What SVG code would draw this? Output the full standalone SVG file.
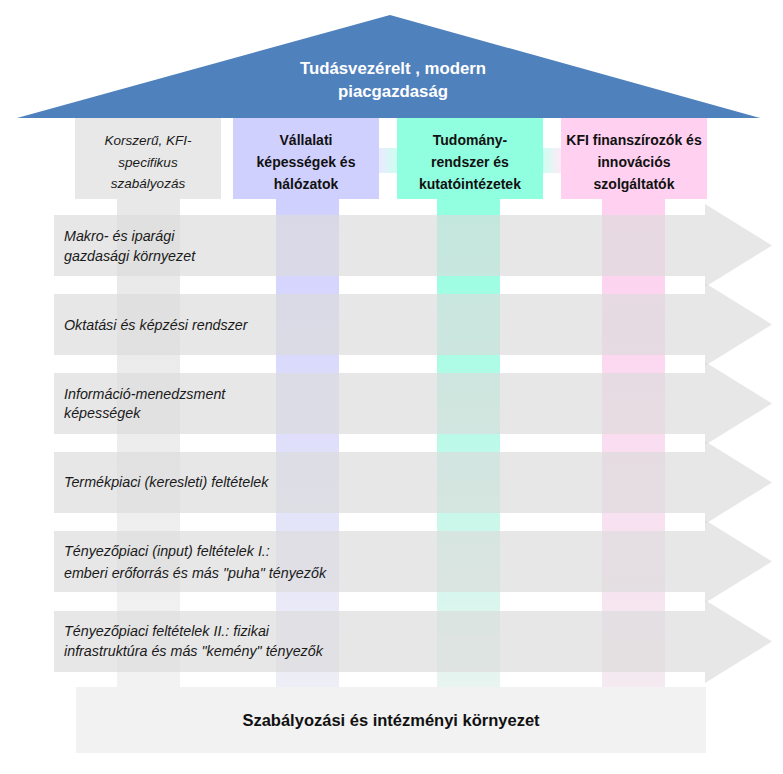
<svg xmlns="http://www.w3.org/2000/svg" width="783" height="774" viewBox="0 0 783 774">
<defs>
<style>
.it{font-family:"Liberation Sans",Arial,sans-serif;font-style:italic;font-size:14.3px;fill:#1a1a1a}
.hd{font-family:"Liberation Sans",Arial,sans-serif;font-weight:bold;font-size:14px;fill:#111;text-anchor:middle}
.hi{font-family:"Liberation Sans",Arial,sans-serif;font-style:italic;font-size:13.5px;fill:#1a1a1a;text-anchor:middle}
.band{fill:#dcdcdc;fill-opacity:0.68}
</style>
<linearGradient id="gGray" x1="0" y1="0" x2="0" y2="1"><stop offset="0" stop-color="#e8e8e8"/><stop offset="1" stop-color="#f2f2f2"/></linearGradient>
<linearGradient id="gBlue" x1="0" y1="0" x2="0" y2="1"><stop offset="0" stop-color="#d0d0ff"/><stop offset="1" stop-color="#eeeef6"/></linearGradient>
<linearGradient id="gTeal" x1="0" y1="0" x2="0" y2="1"><stop offset="0" stop-color="#90ffe0"/><stop offset="1" stop-color="#e8f4f0"/></linearGradient>
<linearGradient id="gPink" x1="0" y1="0" x2="0" y2="1"><stop offset="0" stop-color="#ffd0f0"/><stop offset="1" stop-color="#f4eaf0"/></linearGradient>
<linearGradient id="cBT" x1="0" y1="0" x2="1" y2="0"><stop offset="0" stop-color="#d0d0ff"/><stop offset="1" stop-color="#90ffe0"/></linearGradient>
<linearGradient id="cTP" x1="0" y1="0" x2="1" y2="0"><stop offset="0" stop-color="#90ffe0"/><stop offset="1" stop-color="#ffd0f0"/></linearGradient>
</defs>
<rect width="783" height="774" fill="#fff"/>

<g id="roof">
<polygon points="17,118 390,15 760,118" fill="#4f81bd"/>
<text x="393" y="74" text-anchor="middle" font-family="Liberation Sans, Arial, sans-serif" font-weight="bold" font-size="16.8" fill="#fff">Tudásvezérelt , modern</text>
<text x="393" y="97" text-anchor="middle" font-family="Liberation Sans, Arial, sans-serif" font-weight="bold" font-size="16.8" fill="#fff">piacgazdaság</text>
</g>

<g id="pillar-regulation">
<rect x="117" y="199" width="63" height="488" fill="url(#gGray)"/>
<rect x="75" y="118" width="146" height="81" fill="#e8e8e8"/>
<text class="hi" x="148" y="145">Korszerű, KFI-</text>
<text class="hi" x="148" y="167">specifikus</text>
<text class="hi" x="148" y="188">szabályozás</text>
</g>
<g id="pillar-companies">
<rect x="276" y="199" width="63" height="488" fill="url(#gBlue)"/>
<rect x="233" y="118" width="146" height="81" fill="#d0d0ff"/>
<text class="hd" x="306" y="145">Vállalati</text>
<text class="hd" x="306" y="167">képességek és</text>
<text class="hd" x="306" y="189">hálózatok</text>
</g>
<g id="pillar-science">
<rect x="437" y="199" width="63" height="488" fill="url(#gTeal)"/>
<rect x="397" y="118" width="146" height="81" fill="#90ffe0"/>
<text class="hd" x="470" y="145">Tudomány-</text>
<text class="hd" x="470" y="167">rendszer és</text>
<text class="hd" x="470" y="189">kutatóintézetek</text>
</g>
<g id="pillar-finance">
<rect x="602" y="199" width="63" height="488" fill="url(#gPink)"/>
<rect x="561" y="118" width="146" height="81" fill="#ffd0f0"/>
<text class="hd" x="634" y="145">KFI finanszírozók és</text>
<text class="hd" x="634" y="167">innovációs</text>
<text class="hd" x="634" y="189">szolgáltatók</text>
</g>

<g id="connectors">
<rect x="379" y="148" width="18" height="25" fill="url(#cBT)" opacity="0.45"/>
<rect x="543" y="148" width="18" height="25" fill="url(#cTP)" opacity="0.45"/>
</g>

<g id="band1"><polygon class="band" points="54,215 705,215 705,204 772,245.5 705,287 705,276 54,276"/>
<text class="it" x="64" y="241">Makro- és iparági</text><text class="it" x="64" y="261">gazdasági környezet</text></g>
<g id="band2"><polygon class="band" points="54,294 705,294 705,283 772,324.5 705,366 705,355 54,355"/>
<text class="it" x="64" y="330">Oktatási és képzési rendszer</text></g>
<g id="band3"><polygon class="band" points="54,373 705,373 705,362 772,403.5 705,445 705,434 54,434"/>
<text class="it" x="64" y="399">Információ-menedzsment</text><text class="it" x="64" y="418">képességek</text></g>
<g id="band4"><polygon class="band" points="54,452 705,452 705,441 772,482.5 705,524 705,513 54,513"/>
<text class="it" x="64" y="487">Termékpiaci (keresleti) feltételek</text></g>
<g id="band5"><polygon class="band" points="54,531 705,531 705,520 772,561.5 705,603 705,592 54,592"/>
<text class="it" x="64" y="556">Tényezőpiaci (input) feltételek I.:</text><text class="it" x="64" y="578">emberi erőforrás és más "puha" tényezők</text></g>
<g id="band6"><polygon class="band" points="54,611 705,611 705,600 772,641.5 705,683 705,672 54,672"/>
<text class="it" x="64" y="636">Tényezőpiaci feltételek II.: fizikai</text><text class="it" x="64" y="656">infrastruktúra és más "kemény" tényezők</text></g>

<g id="base">
<rect x="76" y="687" width="630" height="66" fill="#f2f2f2"/>
<text x="391" y="726" text-anchor="middle" font-family="Liberation Sans, Arial, sans-serif" font-weight="bold" font-size="16.5" fill="#111">Szabályozási és intézményi környezet</text>
</g>
</svg>
